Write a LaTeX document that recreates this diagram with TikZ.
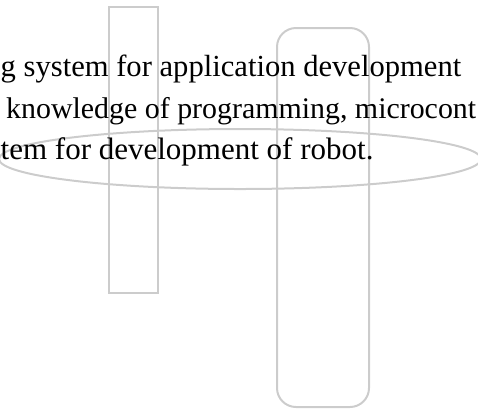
\documentclass[tikz,border=0pt]{standalone}
\usepackage{fontspec}
\setmainfont{Liberation Serif}
\usepackage{tikz}

\begin{document}
\begin{tikzpicture}[x=1bp, y=-1bp,
  outline/.style={draw={rgb,255:red,204;green,204;blue,204}, line width=2bp},
  textline/.style={anchor=base west, inner sep=0pt, font=\fontsize{30.6bp}{36bp}\selectfont}]
\useasboundingbox (0,0) rectangle (478,409);
\clip (0,0) rectangle (478,409);

\draw[outline] (109,7) rectangle (158,293);
\draw[outline, rounded corners=19bp] (277,28) rectangle (369,407);
\draw[outline] (240,159) ellipse [x radius=241, y radius=30];

\node[textline] (lineA) at (0.5,76) {g system for application development};
\node[textline, font=\fontsize{29.9bp}{36bp}\selectfont] (lineB) at (6,118) {knowledge of programming, microcont};
\node[textline, font=\fontsize{31bp}{36bp}\selectfont] (lineC) at (0.5,159) {tem for development of robot.};

\end{tikzpicture}
\end{document}
